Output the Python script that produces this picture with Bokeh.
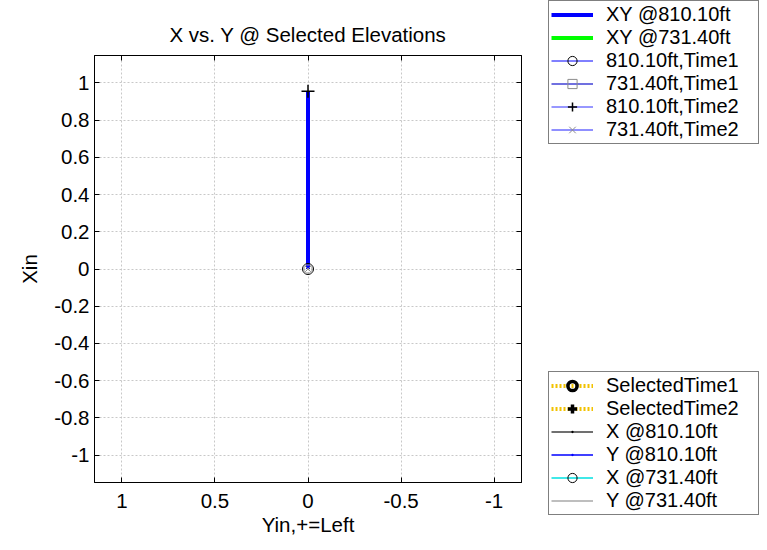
from bokeh.plotting import figure
from bokeh.layouts import row
from bokeh.models import (Range1d, FixedTicker, LinearAxis, Legend, LegendItem,
                          ColumnDataSource)
from bokeh.embed import file_html
from bokeh.resources import INLINE

NaN = float("nan")

# ---------------- data ----------------
x_ticks = [1.0, 0.5, 0.0, -0.5, -1.0]
x_tick_labels = ["1", "0.5", "0", "-0.5", "-1"]
y_ticks = [-1.0, -0.8, -0.6, -0.4, -0.2, 0.0, 0.2, 0.4, 0.6, 0.8, 1.0]
y_tick_labels = ["-1", "-0.8", "-0.6", "-0.4", "-0.2", "0", "0.2", "0.4", "0.6", "0.8", "1"]

# XY profiles (Yin horizontal, Xin vertical)
xy810_yin = [0.0, 0.0]
xy810_xin = [0.0, 0.955]
xy731_yin = [0.0, 0.0]
xy731_xin = [0.0, 0.0]

# time markers
t1_810_yin = [0.0]
t1_810_xin = [0.0]
t1_731_yin = [0.0]
t1_731_xin = [0.0]
t2_810_yin = [0.0]
t2_810_xin = [0.955]
t2_731_yin = [0.0]
t2_731_xin = [0.0]

# series that belong to the time-history views (no values in this XY view)
sel_t1_x, sel_t1_y = [NaN], [NaN]
sel_t2_x, sel_t2_y = [NaN], [NaN]
x810_t, x810_v = [NaN], [NaN]
y810_t, y810_v = [NaN], [NaN]
x731_t, x731_v = [NaN], [NaN]
y731_t, y731_v = [NaN], [NaN]

FONT = "Liberation Sans"
FS = "20.5px"
LFS = "20px"

src = {
    "xy731": ColumnDataSource(dict(x=xy731_yin, y=xy731_xin)),
    "xy810": ColumnDataSource(dict(x=xy810_yin, y=xy810_xin)),
    "t1_810": ColumnDataSource(dict(x=t1_810_yin, y=t1_810_xin)),
    "t1_731": ColumnDataSource(dict(x=t1_731_yin, y=t1_731_xin)),
    "t2_810": ColumnDataSource(dict(x=t2_810_yin, y=t2_810_xin)),
    "t2_731": ColumnDataSource(dict(x=t2_731_yin, y=t2_731_xin)),
    "s1": ColumnDataSource(dict(x=sel_t1_x, y=sel_t1_y)),
    "s2": ColumnDataSource(dict(x=sel_t2_x, y=sel_t2_y)),
    "x810": ColumnDataSource(dict(x=x810_t, y=x810_v)),
    "y810": ColumnDataSource(dict(x=y810_t, y=y810_v)),
    "x731": ColumnDataSource(dict(x=x731_t, y=x731_v)),
    "y731": ColumnDataSource(dict(x=y731_t, y=y731_v)),
}


def add_series(fig):
    r = {}
    r["xy731"] = fig.line("x", "y", source=src["xy731"], line_color="#00ff00", line_width=4)
    r["xy810"] = fig.line("x", "y", source=src["xy810"], line_color="#0000ff", line_width=4)
    r["t1_810_l"] = fig.line("x", "y", source=src["t1_810"], line_color="#0000ff", line_width=1)
    r["t1_810_m"] = fig.scatter("x", "y", source=src["t1_810"], marker="circle", size=11,
                                fill_color=None, line_color="black", line_width=1)
    r["t1_731_l"] = fig.line("x", "y", source=src["t1_731"], line_color="#7070e0", line_width=2)
    r["t1_731_m"] = fig.scatter("x", "y", source=src["t1_731"], marker="square", size=8,
                                fill_color=None, line_color="#8c8c8c", line_width=1)
    r["t2_810_l"] = fig.line("x", "y", source=src["t2_810"], line_color="#3030ff", line_width=1)
    r["t2_810_m"] = fig.scatter("x", "y", source=src["t2_810"], marker="cross", size=13,
                                line_color="black", line_width=1.5)
    r["t2_731_l"] = fig.line("x", "y", source=src["t2_731"], line_color="#2020ff", line_width=1)
    r["t2_731_m"] = fig.scatter("x", "y", source=src["t2_731"], marker="x", size=8,
                                line_color="#8c8c8c", line_width=1)
    r["s1_l"] = fig.line("x", "y", source=src["s1"], line_color="#f2c200", line_width=4, line_dash="2 2")
    r["s1_m"] = fig.scatter("x", "y", source=src["s1"], marker="circle", size=13, fill_color=None,
                            line_color="black", line_width=3.5)
    r["s2_l"] = fig.line("x", "y", source=src["s2"], line_color="#f2c200", line_width=4, line_dash="2 2")
    r["s2_m"] = fig.scatter("x", "y", source=src["s2"], marker="cross", size=15,
                            line_color="black", line_width=3.5)
    r["x810_l"] = fig.line("x", "y", source=src["x810"], line_color="#404040", line_width=1.5)
    r["x810_m"] = fig.scatter("x", "y", source=src["x810"], marker="dot", size=12,
                              line_color="black", line_width=1)
    r["y810_l"] = fig.line("x", "y", source=src["y810"], line_color="#0000ff", line_width=1.5)
    r["y810_m"] = fig.scatter("x", "y", source=src["y810"], marker="dot", size=12,
                              line_color="#0000ff", line_width=1)
    r["x731_l"] = fig.line("x", "y", source=src["x731"], line_color="#40e8e8", line_width=2)
    r["x731_m"] = fig.scatter("x", "y", source=src["x731"], marker="circle", size=9, fill_color=None,
                              line_color="black", line_width=1)
    r["y731_l"] = fig.line("x", "y", source=src["y731"], line_color="#a8a8a8", line_width=1.5)
    return r


# ---------------- main XY plot ----------------
p = figure(width=540, height=550, output_backend="svg", toolbar_location=None,
           x_range=Range1d(1.147, -1.147), y_range=Range1d(-1.147, 1.147),
           min_border_left=94, min_border_right=19, min_border_top=55,
           min_border_bottom=68, title="X vs. Y @ Selected Elevations")
p.frame_align = False

p.background_fill_color = "white"
p.border_fill_color = "white"
p.outline_line_color = "black"
p.outline_line_width = 1

p.title.text_font = FONT
p.title.text_font_size = FS
p.title.text_font_style = "normal"
p.title.text_color = "black"
p.title.align = "center"
p.title.standoff = 20

for ax, ticks, labels in ((p.xaxis[0], x_ticks, x_tick_labels), (p.yaxis[0], y_ticks, y_tick_labels)):
    ax.ticker = FixedTicker(ticks=ticks)
    ax.major_label_overrides = {t: l for t, l in zip(ticks, labels)}
    ax.major_label_text_font = FONT
    ax.major_label_text_font_size = FS
    ax.major_label_text_color = "black"
    ax.axis_label_text_font = FONT
    ax.axis_label_text_font_size = FS
    ax.axis_label_text_font_style = "normal"
    ax.axis_label_text_color = "black"
    ax.major_tick_in = 5
    ax.major_tick_out = 0
    ax.minor_tick_line_color = None
    ax.axis_line_color = "black"
    ax.major_tick_line_color = "black"

p.xaxis[0].axis_label = "Yin,+=Left"
p.yaxis[0].axis_label = "Xin"
p.xaxis[0].major_label_standoff = 11
p.yaxis[0].major_label_standoff = 5
p.xaxis[0].axis_label_standoff = 2
p.yaxis[0].axis_label_standoff = 10

# mirrored tick axes (top and right), labels not drawn
for side, ticks in (("above", x_ticks), ("right", y_ticks)):
    a = LinearAxis(ticker=FixedTicker(ticks=ticks), major_label_text_font_size="1px",
                   major_label_text_color=None,
                   major_label_standoff=0, major_tick_in=5, major_tick_out=0,
                   minor_tick_line_color=None, axis_line_color="black",
                   major_tick_line_color="black")
    p.add_layout(a, side)

p.xgrid[0].ticker = FixedTicker(ticks=x_ticks)
p.ygrid[0].ticker = FixedTicker(ticks=y_ticks)
for g in (p.xgrid[0], p.ygrid[0]):
    g.grid_line_color = "#c8c8c8"
    g.grid_line_dash = "2 2"
    g.grid_line_width = 1

add_series(p)

# ---------------- legend panel ----------------
lf = figure(width=227, height=550, output_backend="svg", toolbar_location=None,
            x_range=Range1d(10, 11), y_range=Range1d(10, 11),
            x_axis_type=None, y_axis_type=None,
            min_border=0, min_border_left=0, min_border_right=0,
            min_border_top=0, min_border_bottom=0)
lf.frame_align = False
lf.outline_line_color = None
lf.background_fill_color = "white"
lf.border_fill_color = "white"
rl = add_series(lf)


def make_legend(items, loc):
    return Legend(items=items, location=loc, orientation="vertical",
                  border_line_color="black", border_line_width=1,
                  background_fill_color="white", background_fill_alpha=1.0,
                  label_text_font=FONT, label_text_font_size=LFS, label_text_color="black",
                  glyph_width=42, glyph_height=23, label_standoff=13, label_width=150,
                  spacing=0, padding=2, margin=0, label_height=20)


leg1 = make_legend([
    LegendItem(label="XY @810.10ft", renderers=[rl["xy810"]]),
    LegendItem(label="XY @731.40ft", renderers=[rl["xy731"]]),
    LegendItem(label="810.10ft,Time1", renderers=[rl["t1_810_l"], rl["t1_810_m"]]),
    LegendItem(label="731.40ft,Time1", renderers=[rl["t1_731_l"], rl["t1_731_m"]]),
    LegendItem(label="810.10ft,Time2", renderers=[rl["t2_810_l"], rl["t2_810_m"]]),
    LegendItem(label="731.40ft,Time2", renderers=[rl["t2_731_l"], rl["t2_731_m"]]),
], (8, 406))

leg2 = make_legend([
    LegendItem(label="SelectedTime1", renderers=[rl["s1_l"], rl["s1_m"]]),
    LegendItem(label="SelectedTime2", renderers=[rl["s2_l"], rl["s2_m"]]),
    LegendItem(label="X @810.10ft", renderers=[rl["x810_l"], rl["x810_m"]]),
    LegendItem(label="Y @810.10ft", renderers=[rl["y810_l"], rl["y810_m"]]),
    LegendItem(label="X @731.40ft", renderers=[rl["x731_l"], rl["x731_m"]]),
    LegendItem(label="Y @731.40ft", renderers=[rl["y731_l"]]),
], (8, 35))

lf.add_layout(leg1)
lf.add_layout(leg2)

layout = row(p, lf, spacing=0)
open("out.html", "w").write(file_html(layout, INLINE))
